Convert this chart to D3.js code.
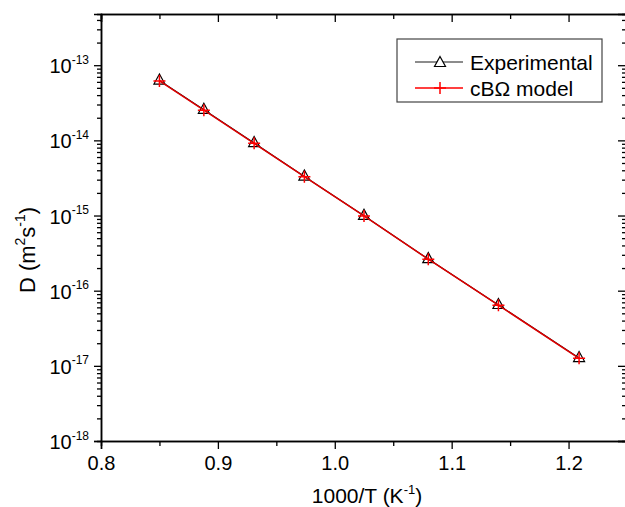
<!DOCTYPE html>
<meta charset="utf-8">
<script src="https://d3js.org/d3.v7.min.js"></script>
<style>
  body { margin: 0; background: #fff; }
  svg { font-family: 'Liberation Sans', Arial, sans-serif; }
</style>
<body>
<div id="chart"></div>
<script>
// data
const invT = [0.850, 0.888, 0.931, 0.974, 1.025, 1.080, 1.140, 1.209];
const expD = [6.25e-14, 2.55e-14, 9.2e-15, 3.3e-15, 9.9e-16, 2.63e-16, 6.45e-17, 1.27e-17];
const modelD = [6.18e-14, 2.52e-14, 9.12e-15, 3.28e-15, 9.87e-16, 2.62e-16, 6.41e-17, 1.26e-17];
const xTicks = [0.8, 0.9, 1.0, 1.1, 1.2];
const xMinor = [0.85, 0.95, 1.05, 1.15, 1.25];
const yExp = [-18, -17, -16, -15, -14, -13];
const seriesNames = ["Experimental", "cB\u03A9 model"];

var W = 625, H = 507;
var m = {left: 101, right: 627, top: 14, bottom: 441};

var svg = d3.select("#chart").append("svg")
  .attr("width", W).attr("height", H);

var x = d3.scaleLinear().domain([0.8, 1.25]).range([m.left, m.right]);
var y = d3.scaleLog().domain([1e-18, 4.8e-13]).range([m.bottom, m.top]);

// minor log ticks
var yMinor = [];
yExp.forEach(function(e) {
  for (var k = 2; k <= 9; k++) {
    var v = k * Math.pow(10, e);
    if (v <= y.domain()[1]) yMinor.push(v);
  }
});
var yMajor = yExp.map(function(e) { return Math.pow(10, e); });

// bottom axis
var xb = svg.append("g").attr("transform", "translate(0," + m.bottom + ")")
  .call(d3.axisBottom(x).tickValues(xTicks).tickSize(8).tickPadding(7)
    .tickFormat(d3.format(".1f")));
svg.append("g").attr("transform", "translate(0," + m.bottom + ")")
  .call(d3.axisBottom(x).tickValues(xMinor).tickSize(5).tickFormat(""));

// top axis (ticks inward)
svg.append("g").attr("transform", "translate(0," + m.top + ")")
  .call(d3.axisBottom(x).tickValues(xTicks).tickSize(8).tickFormat(""));
svg.append("g").attr("transform", "translate(0," + m.top + ")")
  .call(d3.axisBottom(x).tickValues(xMinor).tickSize(5).tickFormat(""));

// left axis
var yl = svg.append("g").attr("transform", "translate(" + m.left + ",0)")
  .call(d3.axisLeft(y).tickValues(yMajor).tickSize(7).tickPadding(6)
    .tickFormat(function() { return ""; }));
svg.append("g").attr("transform", "translate(" + m.left + ",0)")
  .call(d3.axisLeft(y).tickValues(yMinor).tickSize(4).tickFormat(""));

// right axis (ticks inward)
svg.append("g").attr("transform", "translate(" + m.right + ",0)")
  .call(d3.axisLeft(y).tickValues(yMajor).tickSize(9).tickFormat(""));
svg.append("g").attr("transform", "translate(" + m.right + ",0)")
  .call(d3.axisLeft(y).tickValues(yMinor).tickSize(5).tickFormat(""));

svg.selectAll(".domain").attr("stroke", "#000").attr("stroke-width", 1.5);
svg.selectAll(".tick line").attr("stroke", "#000").attr("stroke-width", 1.3);
xb.selectAll("text").attr("fill", "#000").style("font-size", "20px")
  .style("font-family", "'Liberation Sans', Arial, sans-serif");

// y tick labels 10^n
yl.selectAll(".tick text").each(function(d) {
  var t = d3.select(this).text("")
    .attr("fill", "#000").attr("x", -12).attr("dy", "0.38em")
    .style("font-size", "20px")
    .style("font-family", "'Liberation Sans', Arial, sans-serif");
  t.append("tspan").text("10");
  t.append("tspan").text(Math.round(Math.log10(d)))
    .style("font-size", "12px").attr("dy", "-0.8em");
});

// lines
var line = d3.line().x(function(d) { return x(d[0]); }).y(function(d) { return y(d[1]); });
var expPts = invT.map(function(v, i) { return [v, expD[i]]; });
var modPts = invT.map(function(v, i) { return [v, modelD[i]]; });

svg.append("path").datum(expPts).attr("d", line)
  .attr("fill", "none").attr("stroke", "#000").attr("stroke-width", 1.2);

var tri = "M0,-6.5L5.5,3.5L-5.5,3.5Z";
svg.append("g").selectAll("path").data(expPts).enter().append("path")
  .attr("d", tri)
  .attr("transform", function(d) { return "translate(" + x(d[0]) + "," + y(d[1]) + ")"; })
  .attr("fill", "none").attr("stroke", "#000").attr("stroke-width", 1.2);

svg.append("path").datum(modPts).attr("d", line)
  .attr("fill", "none").attr("stroke", "#e00000").attr("stroke-width", 1.5);

var plus = "M-6,0H6M0,-6V6";
svg.append("g").selectAll("path").data(modPts).enter().append("path")
  .attr("d", plus)
  .attr("transform", function(d) { return "translate(" + x(d[0]) + "," + y(d[1]) + ")"; })
  .attr("fill", "none").attr("stroke", "#ff0000").attr("stroke-width", 1.5);

// axis titles
var xt = svg.append("text").attr("x", (m.left + m.right) / 2 + 3).attr("y", 503)
  .attr("text-anchor", "middle").style("font-size", "21px");
xt.append("tspan").text("1000/T (K");
xt.append("tspan").text("-1").style("font-size", "13px").attr("dy", "-0.7em");
xt.append("tspan").text(")").attr("dy", "0.45em");

var yt = svg.append("text")
  .attr("transform", "translate(35,250) rotate(-90)")
  .attr("text-anchor", "middle").style("font-size", "22px");
yt.append("tspan").text("D (m");
yt.append("tspan").text("2").style("font-size", "14px").attr("dy", "-0.7em");
yt.append("tspan").text("s").attr("dy", "0.45em");
yt.append("tspan").text("-1").style("font-size", "14px").attr("dy", "-0.7em");
yt.append("tspan").text(")").attr("dy", "0.45em");

// legend
var lg = svg.append("g");
lg.append("rect").attr("x", 397).attr("y", 39).attr("width", 205).attr("height", 63)
  .attr("fill", "#fff").attr("stroke", "#444").attr("stroke-width", 1.2);
var rows = [62, 88];
lg.append("line").attr("x1", 415).attr("x2", 463).attr("y1", rows[0]).attr("y2", rows[0])
  .attr("stroke", "#666").attr("stroke-width", 1.5);
lg.append("path").attr("d", tri).attr("transform", "translate(440," + (rows[0] + 1) + ")")
  .attr("fill", "#fff").attr("stroke", "#000").attr("stroke-width", 1.2);
lg.append("line").attr("x1", 415).attr("x2", 463).attr("y1", rows[1]).attr("y2", rows[1])
  .attr("stroke", "#ff0000").attr("stroke-width", 1.3);
lg.append("path").attr("d", plus).attr("transform", "translate(440," + rows[1] + ")")
  .attr("stroke", "#ff0000").attr("stroke-width", 1.5);
seriesNames.forEach(function(n, i) {
  lg.append("text").attr("x", 470).attr("y", rows[i]).attr("dy", "0.36em")
    .style("font-size", "21px").text(n);
});
</script>
</body>
